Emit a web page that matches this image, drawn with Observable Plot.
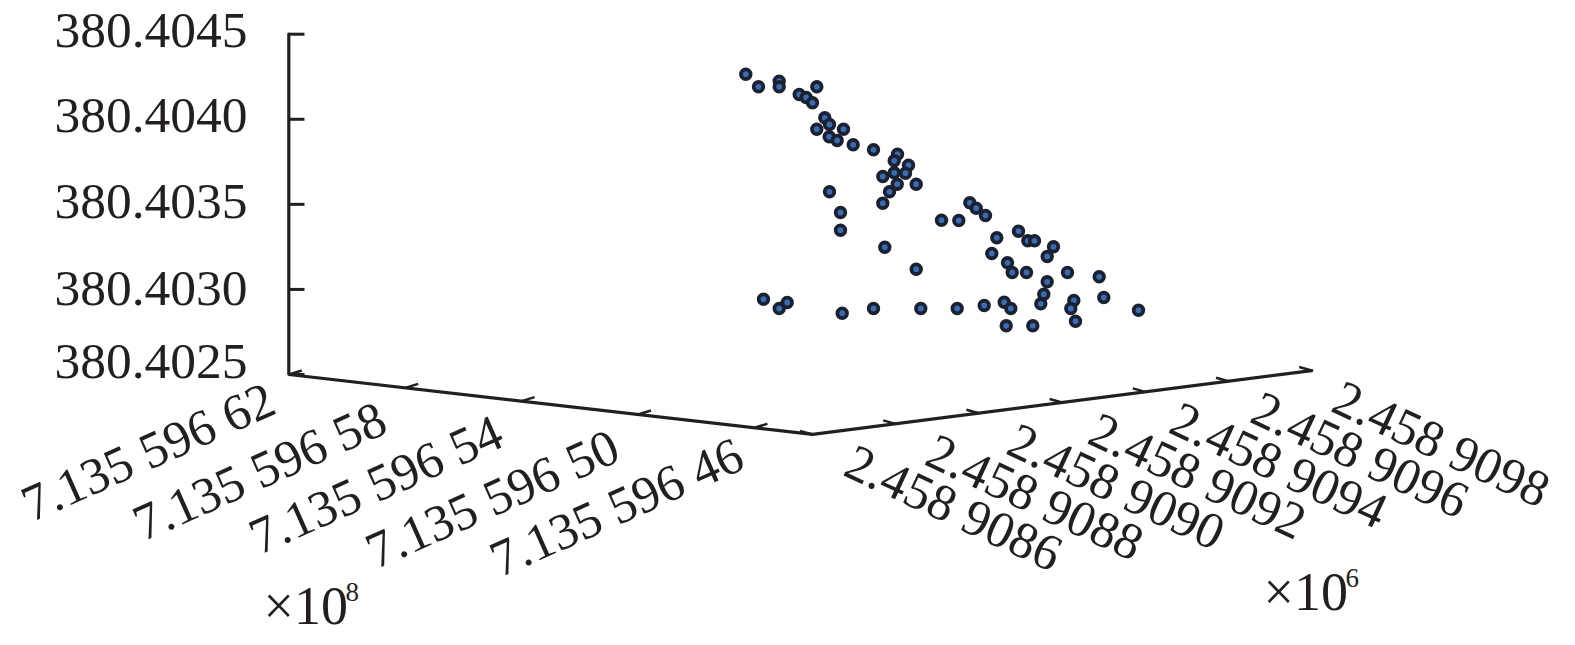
<!DOCTYPE html>
<html>
<head>
<meta charset="utf-8">
<style>html,body{margin:0;padding:0;background:#fff;overflow:hidden}svg{display:block}</style>
<script src="https://cdn.jsdelivr.net/npm/d3@7"></script>
<script src="https://cdn.jsdelivr.net/npm/@observablehq/plot@0.6"></script>
</head>
<body>
<div id="chart"></div>
<script>
// Point positions (projected horizontal, projected vertical)
const pointViewX = [745.3,758,778.7,778.7,798.7,805.7,812,816.3,824.3,829,816.3,843,828.7,836.7,852.7,873,897,893.7,908,893.7,905,882.3,915.7,896.7,889,882.3,829,840,941,840,884.3,915.7,763,786.7,778.7,841.7,873,920.3,969.3,975.7,985,958.3,996.3,1018,1027.3,1034,1053,1046.7,991.3,1007,1011.7,1026,1067,1098.7,1046.7,1043.3,1103.3,1003.7,1010.3,1040.3,1073.3,1070.3,1138,956.7,983.7,1005.7,1032.3,1075];
const pointViewY = [73.7,86.3,80.7,86.3,94,97,102.3,86.3,117.3,124,128.7,128.7,136.3,140,144.3,149.3,153.7,160.3,164.7,172.3,172.7,176,183.7,183.7,191.3,202.7,191.3,212,219.7,229.7,246.7,268.7,298.7,302,308,312.7,308,308,202.3,207.7,215,220,237.3,230.7,240.3,240.3,246.3,256,253,262.3,272,272,272,276.3,281.3,293.7,297,301.7,308,303.3,300,308,309.7,308,305,325.3,325.3,320.7];

// Axis values
const heightTicks = [380.4045,380.4040,380.4035,380.4030,380.4025];
const heightLabels = ["380.4045","380.4040","380.4035","380.4030","380.4025"];
const heightLabelNudge = [-4,-4,-3,-1,-13];
const backTicks = [62,58,54,50,46];
const backLabels = ["7.135 596 62","7.135 596 58","7.135 596 54","7.135 596 50","7.135 596 46"];
const backLabelNudgeX = [5,0,0,0,8];
const backLabelNudgeY = [-10,-4,-4,-3,-8];
const backEnd = 44;
const sideTicks = [9086,9088,9090,9092,9094,9096,9098];
const sideLabels = sideTicks.map(v => "2.458 " + v);

// Projection of the three axes onto the page
const heightY = z => 374 - (z - 380.4025) * 170150;
const backPos = u => [288.3 + (62 - u) * 29.1, 374 + (62 - u) * 3.33];
const sidePos = v => [812 + (v - 9086) * 41.6, 434 - (v - 9086) * 5.33];

const ink = "#231f20";
const font = "Liberation Serif";
const size = 51.5;
const points = pointViewX.map((x, i) => ({x, y: pointViewY[i]}));
const axisPath = [[288.3, heightY(380.4045)], [288.3, 374], backPos(backEnd), sidePos(9098)];
const back = backTicks.map((u, i) => ({p: backPos(u), label: backLabels[i], nx: backLabelNudgeX[i], ny: backLabelNudgeY[i]}));
const side = sideTicks.map((v, i) => ({p: sidePos(v), label: sideLabels[i], i}));
const zs = heightTicks.map((z, i) => ({y: heightY(z), label: heightLabels[i], n: heightLabelNudge[i]}));

const chart = Plot.plot({
  width: 1575, height: 645, margin: 0,
  style: {background: "#fff"},
  x: {domain: [0, 1575], range: [0, 1575], axis: null},
  y: {domain: [0, 645], range: [0, 645], axis: null},
  marks: [
    Plot.line(axisPath, {x: d => d[0], y: d => d[1], stroke: ink, strokeWidth: 3.2, strokeLinejoin: "miter"}),
    Plot.link(zs, {x1: 288.3, x2: 304, y1: d => d.y, y2: d => d.y, stroke: ink, strokeWidth: 3}),
    Plot.link(back, {x1: d => d.p[0], y1: d => d.p[1], x2: d => d.p[0] + 13, y2: d => d.p[1] - 4, stroke: ink, strokeWidth: 2.5}),
    Plot.link(side, {x1: d => d.p[0], y1: d => d.p[1], x2: d => d.p[0] - 12.5, y2: d => d.p[1] - 3.5, stroke: ink, strokeWidth: 2.5}),
    Plot.text(zs, {x: 247, y: d => d.y + d.n, text: "label", textAnchor: "end", fontFamily: font, fontSize: size, fill: ink}),
    Plot.text(back, {x: d => d.p[0] - 22 + d.nx, y: d => d.p[1] + 33 + d.ny, text: "label", textAnchor: "end", rotate: -24, fontFamily: font, fontSize: size, fill: ink}),
    Plot.text(side, {x: d => d.p[0] + 36 - d.i * 1.9, y: d => d.p[1] + 25, text: "label", textAnchor: "start", rotate: 25, fontFamily: font, fontSize: size, fill: ink}),
    Plot.text(["×10"], {x: 263, y: 606, text: d => d, textAnchor: "start", fontFamily: font, fontSize: 54, fill: ink}),
    Plot.text(["8"], {x: 345, y: 592, text: d => d, textAnchor: "start", fontFamily: font, fontSize: 27, fill: ink}),
    Plot.text(["×10"], {x: 1263, y: 592, text: d => d, textAnchor: "start", fontFamily: font, fontSize: 54, fill: ink}),
    Plot.text(["6"], {x: 1345, y: 578, text: d => d, textAnchor: "start", fontFamily: font, fontSize: 27, fill: ink}),
    Plot.dot(points, {x: "x", y: "y", r: 4.8, fill: "#3a6cb4", stroke: "#1b2130", strokeWidth: 3.8})
  ]
});
document.getElementById("chart").append(chart);
</script>
</body>
</html>
